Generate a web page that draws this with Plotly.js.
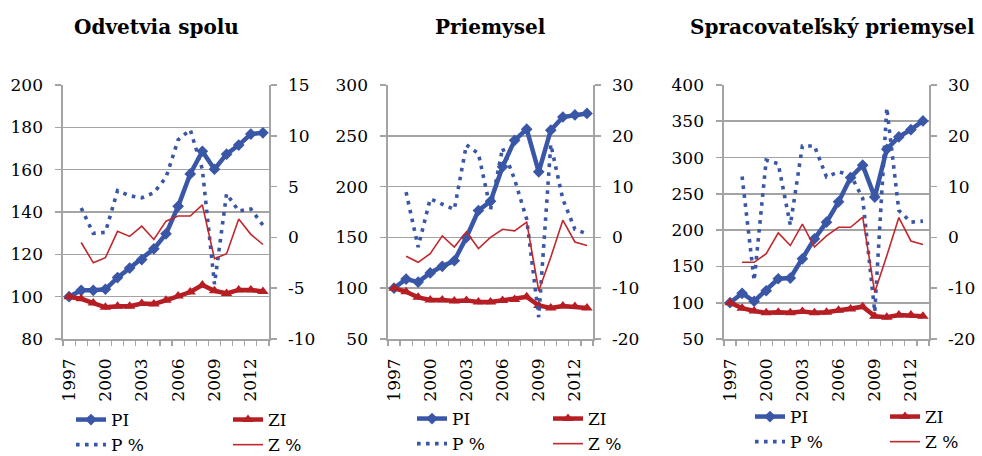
<!DOCTYPE html>
<html>
<head>
<meta charset="utf-8">
<script src="https://cdn.plot.ly/plotly-3.0.1.min.js"></script>
<style>html,body{margin:0;padding:0;background:#fff;}#chart{width:982px;height:456px;}</style>
</head>
<body>
<div id="chart"></div>
<script>
// ---- data ----
const years = [1997, 1998, 1999, 2000, 2001, 2002, 2003, 2004, 2005, 2006, 2007, 2008, 2009, 2010, 2011, 2012, 2013];
const yearsPct = [1998, 1999, 2000, 2001, 2002, 2003, 2004, 2005, 2006, 2007, 2008, 2009, 2010, 2011, 2012, 2013];
const yearTicks = [1997, 2000, 2003, 2006, 2009, 2012];
const yearTickText = ['1997', '2000', '2003', '2006', '2009', '2012'];

const seriesNames = ['PI', 'ZI', 'P %', 'Z %'];
const panelTitles = ['Odvetvia spolu', 'Priemysel', 'Spracovateľský priemysel'];

// Odvetvia spolu
const pi1 = [100, 103, 103, 103.5, 109, 113.5, 117.5, 122.6, 129.7, 142.7, 158, 168.7, 160.2, 167.3, 171.6, 176.8, 177.4];
const zi1 = [100, 99, 97, 95, 95.5, 95.5, 96.8, 96.5, 98.3, 100.3, 102.2, 105.5, 102.8, 101.5, 103.2, 103.2, 102.4];
const p1 = [2.9, 0.4, 0.5, 4.6, 4.1, 3.9, 4.4, 5.9, 9.6, 10.6, 6.7, -4.6, 4.3, 2.6, 2.8, 1.2];
const z1 = [-0.5, -2.5, -2.0, 0.6, 0.1, 1.1, -0.2, 1.6, 2.1, 2.1, 3.2, -2.1, -1.6, 1.8, 0.3, -0.7];
// Priemysel
const pi2 = [100, 109, 106, 115, 121.5, 127, 150, 176.5, 185.5, 219.5, 245.5, 256.5, 214.5, 255.5, 268.5, 270.5, 272];
const zi2 = [100, 96.5, 91, 88.5, 88.5, 87.5, 88, 86.5, 86.5, 88, 89, 91.5, 83, 80.5, 82.5, 82, 80.5];
const p2 = [8.9, -1.9, 7.6, 6.6, 5.5, 18.2, 16.5, 5.5, 17.6, 11.4, 3.6, -15.7, 18.3, 7.5, 1.6, 0.7];
const z2 = [-3.7, -4.9, -3.2, 0.3, -1.9, 1.1, -2.2, 0, 1.6, 1.3, 3.0, -10.5, -3.9, 3.4, -0.9, -1.6];
// Spracovateľský priemysel
const pi3 = [100, 113, 102, 116.5, 133, 134, 160.5, 188, 211, 239, 272.5, 289.5, 245.5, 311.5, 328.5, 338.5, 350.5];
const zi3 = [100, 92.5, 88.5, 86.2, 87, 86.2, 88, 86.2, 87, 89.5, 91.5, 94.5, 81.5, 80, 83, 83, 81.5];
const p3 = [12.0, -8.5, 15.2, 14.5, 2.4, 18.0, 18.0, 11.9, 12.9, 12.3, 7.7, -14.7, 25.5, 5.3, 3.0, 3.2];
const z3 = [-4.9, -4.9, -3.2, 0.9, -1.6, 2.6, -1.9, 0.3, 2.0, 2.0, 4.0, -10.8, -3.6, 3.9, -0.7, -1.4];

// axis ticks
const left1 = [80, 100, 120, 140, 160, 180, 200];
const right1 = [-10, -5, 0, 5, 10, 15];
const left2 = [50, 100, 150, 200, 250, 300];
const right2 = [-20, -10, 0, 10, 20, 30];
const left3 = [50, 100, 150, 200, 250, 300, 350, 400];
const right3 = [-20, -10, 0, 10, 20, 30];

// ---- styling / layout ----
const W = 982, H = 456;
const FONT = 'DejaVu Serif';
const BLUE = '#3a56a6', RED = '#b61e24', RED2 = '#c0282d', GRAY = '#a4a4a4';
const plotTop = 85, plotBottom = 339;

// leg: x of legend text for column 1 and column 2; legY: top of legend box
const panels = [
  {data: [pi1, zi1, p1, z1], left: left1, right: right1, x0: 63, x1: 269, titleX: 156, leg: [111, 268], legY: 402},
  {data: [pi2, zi2, p2, z2], left: left2, right: right2, x0: 388, x1: 593, titleX: 490, leg: [452, 588], legY: 401},
  {data: [pi3, zi3, p3, z3], left: left3, right: right3, x0: 724, x1: 929, titleX: 832, leg: [790, 925], legY: 399}
];

const traces = [];
const layout = {
  width: W, height: H,
  margin: {l: 0, r: 0, t: 0, b: 0, autoexpand: false},
  paper_bgcolor: '#ffffff', plot_bgcolor: '#ffffff',
  font: {family: FONT, size: 17, color: '#000000'},
  showlegend: true,
  annotations: []
};

panels.forEach((p, i) => {
  const xa = i === 0 ? 'x' : 'x' + (i + 1);
  const yl = i === 0 ? 'y' : 'y' + (2 * i + 1);
  const yr = 'y' + (2 * i + 2);
  const legA = i === 0 ? 'legend' : 'legend' + (2 * i + 1);
  const legB = 'legend' + (2 * i + 2);
  const [pi, zi, pp, zz] = p.data;

  traces.push({
    x: years, y: pi, name: seriesNames[0], type: 'scatter', mode: 'lines+markers',
    xaxis: xa, yaxis: yl, legend: legA,
    line: {color: BLUE, width: 4.5}, marker: {symbol: 'diamond', size: 9, color: BLUE}
  });
  traces.push({
    x: years, y: zi, name: seriesNames[1], type: 'scatter', mode: 'lines+markers',
    xaxis: xa, yaxis: yl, legend: legB,
    line: {color: RED, width: 4.5}, marker: {symbol: 'triangle-up', size: 10, color: RED}
  });
  traces.push({
    x: yearsPct, y: pp, name: seriesNames[2], type: 'scatter', mode: 'lines',
    xaxis: xa, yaxis: yr, legend: legA,
    line: {color: BLUE, width: 3.6, dash: '3.6px,5.4px'}
  });
  traces.push({
    x: yearsPct, y: zz, name: seriesNames[3], type: 'scatter', mode: 'lines',
    xaxis: xa, yaxis: yr, legend: legB,
    line: {color: RED2, width: 1.6}
  });

  const xName = i === 0 ? 'xaxis' : 'xaxis' + (i + 1);
  const ylName = i === 0 ? 'yaxis' : 'yaxis' + (2 * i + 1);
  const yrName = 'yaxis' + (2 * i + 2);
  const dom = [1 - plotBottom / H, 1 - plotTop / H];

  layout[xName] = {
    domain: [p.x0 / W, p.x1 / W], anchor: yl,
    range: [years[0] - 0.5, years[years.length - 1] + 0.5],
    tickmode: 'array', tickvals: yearTicks, ticktext: yearTickText, tickangle: -90,
    ticks: '', ticklabelstandoff: 11,
    showline: true, linecolor: GRAY, linewidth: 1.6,
    showgrid: false, zeroline: false, fixedrange: true,
    minor: {tick0: years[0] - 0.5, dtick: 1, ticks: 'outside', ticklen: 5, tickcolor: GRAY, tickwidth: 1.2, showgrid: false},
    tickfont: {family: FONT, size: 17, color: '#000'}
  };
  layout[ylName] = {
    domain: dom, anchor: xa,
    range: [p.left[0], p.left[p.left.length - 1]],
    tickmode: 'array', tickvals: p.left, ticktext: p.left.map(String),
    ticks: 'outside', ticklen: 6, tickcolor: GRAY, tickwidth: 1.6, ticklabelstandoff: 9,
    showline: true, linecolor: GRAY, linewidth: 1.6,
    showgrid: true, gridcolor: GRAY, gridwidth: 1.6, zeroline: false, fixedrange: true,
    tickfont: {family: FONT, size: 17, color: '#000'}
  };
  layout[yrName] = {
    overlaying: yl, side: 'right', anchor: xa,
    range: [p.right[0], p.right[p.right.length - 1]],
    tickmode: 'array', tickvals: p.right, ticktext: p.right.map(v => String(v)),
    ticks: 'outside', ticklen: 6, tickcolor: GRAY, tickwidth: 1.6, ticklabelstandoff: 8,
    showline: true, linecolor: GRAY, linewidth: 1.6,
    showgrid: false, zeroline: false, fixedrange: true,
    tickfont: {family: FONT, size: 17, color: '#000'}
  };

  const legCommon = {
    orientation: 'v', xanchor: 'left', yanchor: 'top', y: 1 - p.legY / H,
    bgcolor: 'rgba(0,0,0,0)', borderwidth: 0, tracegroupgap: 0,
    font: {family: FONT, size: 17, color: '#000', weight: 'normal'}
  };
  layout[legA] = Object.assign({}, legCommon, {x: (p.leg[0] - 40) / W});
  layout[legB] = Object.assign({}, legCommon, {x: (p.leg[1] - 40) / W});

  layout.annotations.push({
    text: '<b>' + panelTitles[i] + '</b>', xref: 'paper', yref: 'paper',
    x: p.titleX / W, y: 1 - 27 / H, xanchor: 'center', yanchor: 'middle',
    showarrow: false, font: {family: FONT, size: 20, color: '#000'}
  });
});

Plotly.newPlot('chart', traces, layout, {displayModeBar: false, staticPlot: true});
</script>
</body>
</html>
